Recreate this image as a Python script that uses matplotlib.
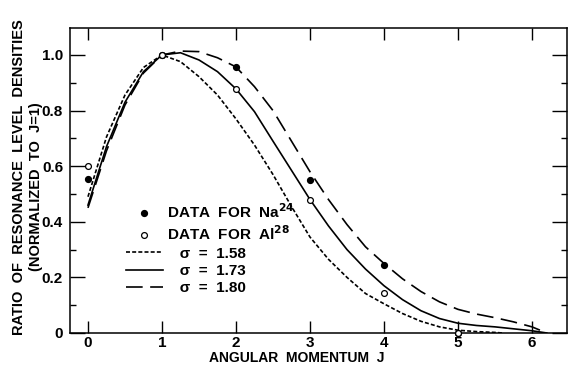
import matplotlib.pyplot as plt
from matplotlib.lines import Line2D

plt.rcParams["font.family"] = ["Liberation Sans", "DejaVu Sans"]
plt.rcParams["font.weight"] = "bold"
plt.rcParams["mathtext.default"] = "bf"

# measured ratios rho(J)/rho(1)
j_data = [0, 1, 2, 3, 4, 5]
na24 = [0.555, 1.0, 0.957, 0.55, 0.245, 0.0]
al28 = [0.60, 1.0, 0.878, 0.478, 0.145, 0.0]

# calculated curves for the three spin cutoff values
j_curve = [0, 0.25, 0.5, 0.75, 1.0, 1.25, 1.5, 1.75, 2.0, 2.25, 2.5, 2.75, 3.0,
           3.25, 3.5, 3.75, 4.0, 4.25, 4.5, 4.75, 5.0, 5.25, 5.5, 5.75, 6.0, 6.2]
sig_158 = [0.49, 0.705, 0.856, 0.955, 1.0, 0.976, 0.922, 0.856, 0.77, 0.676, 0.57,
           0.455, 0.345, 0.265, 0.20, 0.142, 0.105, 0.07, 0.042, 0.022, 0.01,
           0.005, 0.002, 0.0]
sig_173 = [0.46, 0.67, 0.83, 0.94, 1.0, 1.008, 0.982, 0.94, 0.878, 0.796, 0.69,
           0.585, 0.48, 0.385, 0.30, 0.23, 0.17, 0.12, 0.08, 0.052, 0.035, 0.027,
           0.022, 0.015, 0.008, 0.0]
sig_180 = [0.45, 0.655, 0.82, 0.935, 1.0, 1.014, 1.012, 0.99, 0.957, 0.886, 0.80,
           0.69, 0.58, 0.48, 0.39, 0.31, 0.25, 0.195, 0.149, 0.112, 0.085, 0.068,
           0.055, 0.04, 0.022, 0.0]
j_short = j_curve[:23] + [5.6]

fig = plt.figure(figsize=(5.69, 3.66), dpi=100)
ax = fig.add_axes([0.123, 0.0902, 0.8735, 0.8333])

lw = 1.2
short_dash = (0, (2.4, 1.3))
long_dash = (0, (10, 4.5))
ax.plot(j_short, sig_158, color="black", lw=lw, linestyle=short_dash)
ax.plot(j_curve, sig_173, color="black", lw=lw)
ax.plot(j_curve, sig_180, color="black", lw=lw, linestyle=long_dash)

ax.plot(j_data, na24, "o", color="black", ms=4.2, clip_on=False, zorder=4)
ax.plot(j_data, al28, "o", mfc="white", mec="black", mew=0.9, ms=4.2,
        clip_on=False, zorder=4)

ax.set_xlim(-0.243, 6.473)
ax.set_ylim(0, 1.097)
ax.set_xticks([0, 1, 2, 3, 4, 5, 6])
ax.set_yticks([0, 0.2, 0.4, 0.6, 0.8, 1.0])
ax.set_yticklabels(["0", "0.2", "0.4", "0.6", "0.8", "1.0"])
ax.set_yticks([0.1, 0.3, 0.5, 0.7, 0.9], minor=True)
ax.tick_params(axis="both", which="both", direction="in", top=True, right=True,
               width=1.0, labelsize=11)
ax.tick_params(axis="x", which="major", length=8.6, pad=2.5)
ax.tick_params(axis="y", which="major", length=10.5, pad=5)
ax.tick_params(axis="y", which="minor", length=4.5)
for s in ax.spines.values():
    s.set_linewidth(1.1)

ax.set_xlabel("ANGULAR  MOMENTUM  J", fontsize=10, fontweight="bold", va="bottom")
ax.xaxis.set_label_coords(0.457, -0.105)

fig.text(0.034, 0.516, "RATIO  OF  RESONANCE  LEVEL  DENSITIES", rotation=90,
         ha="center", va="center", fontsize=10.5, fontweight="bold")
fig.text(0.064, 0.489, "(NORMALIZED  TO  J=1)", rotation=90,
         ha="center", va="center", fontsize=10.5, fontweight="bold")

handles = [
    Line2D([], [], marker="o", color="black", ls="none", ms=4.2),
    Line2D([], [], marker="o", mfc="white", mec="black", mew=0.9, ls="none", ms=4.2),
    Line2D([], [], color="black", lw=lw, linestyle=short_dash),
    Line2D([], [], color="black", lw=lw),
    Line2D([], [], color="black", lw=lw, linestyle=long_dash),
]
labels = [
    "DATA  FOR  Na$^{24}$",
    "DATA  FOR  Al$^{28}$",
    "   σ  =  1.58",
    "   σ  =  1.73",
    "   σ  =  1.80",
]
ax.legend(handles, labels, loc="upper left", bbox_to_anchor=(0.113, 0.428),
          frameon=False, borderpad=0, borderaxespad=0, handlelength=2.4,
          handletextpad=0.3, labelspacing=0.22, numpoints=1,
          prop={"weight": "bold", "size": 11})

fig.savefig("out.png", dpi=100)
